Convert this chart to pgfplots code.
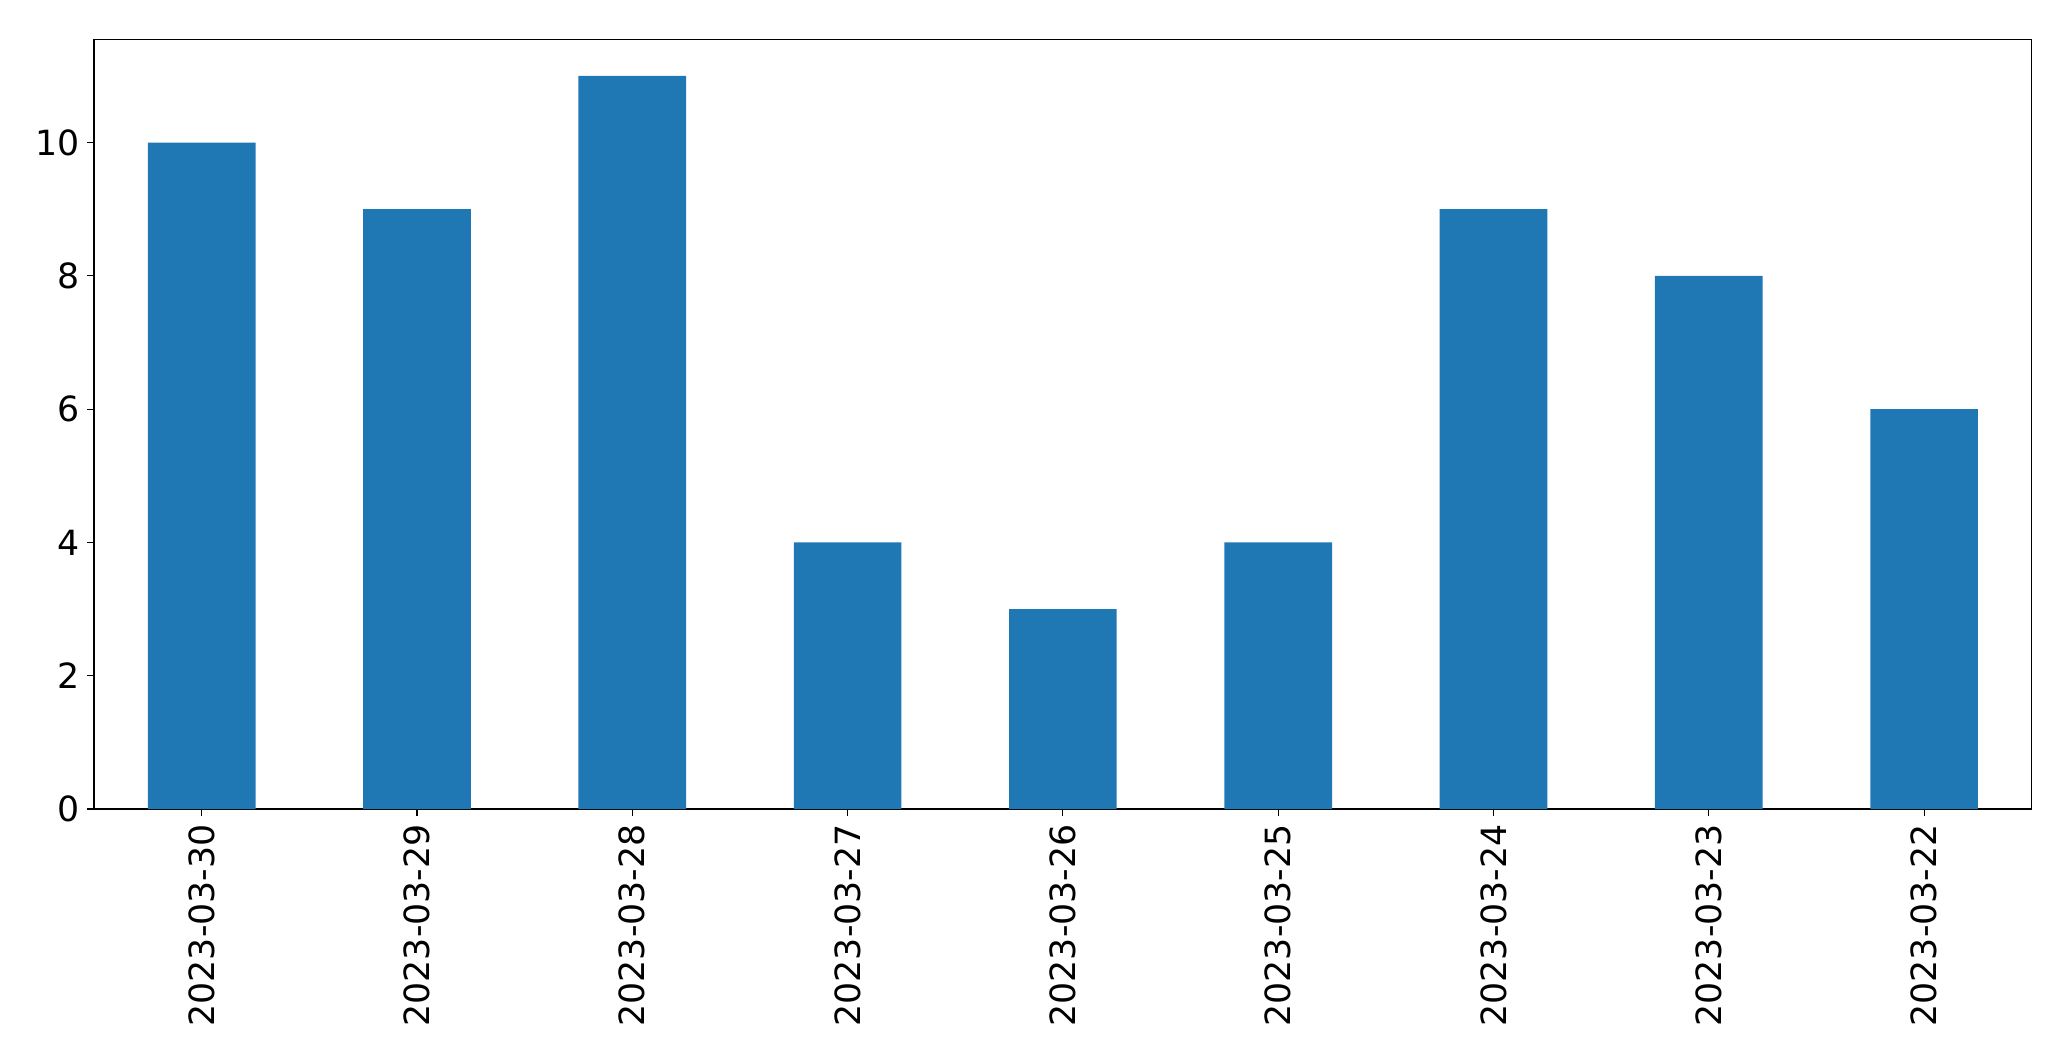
\documentclass[border=0pt]{standalone}
\usepackage{fontspec}
\setmainfont{DejaVu Sans}
\usepackage{pgfplots}
\pgfplotsset{compat=1.18}
\definecolor{mplblue}{HTML}{1F77B4}
\begin{document}
\begin{tikzpicture}
\useasboundingbox (-67.7pt,-181.4pt) rectangle (1423.4pt,582.5pt);
\begin{axis}[
  at={(0,0)}, anchor=south west,
  scale only axis,
  width=1395.2pt, height=554.2pt,
  xmin=-0.5, xmax=8.5,
  ymin=0, ymax=11.55,
  xtick={0,...,8},
  xticklabels={2023-03-30,2023-03-29,2023-03-28,2023-03-27,2023-03-26,2023-03-25,2023-03-24,2023-03-23,2023-03-22},
  ytick={0,2,4,6,8,10},
  tick align=outside,
  major tick length=4.9pt,
  tick style={black, line width=0.8pt},
  axis line style={line width=0.8pt},
  xtick pos=bottom, ytick pos=left,
  /pgf/number format/assume math mode=true,
  ticklabel style={font=\fontsize{25}{30}\selectfont},
  xticklabel style={rotate=90, anchor=east, inner sep=0pt, yshift=0pt},
  yticklabel style={inner sep=0pt},
  xticklabel shift=6pt,
  yticklabel shift=5pt,
]
\addplot[ybar, bar width=0.5, fill=mplblue, draw=none, bar shift=0pt] coordinates {
(0,10) (1,9) (2,11) (3,4) (4,3) (5,4) (6,9) (7,8) (8,6)
};
\end{axis}
\end{tikzpicture}
\end{document}
